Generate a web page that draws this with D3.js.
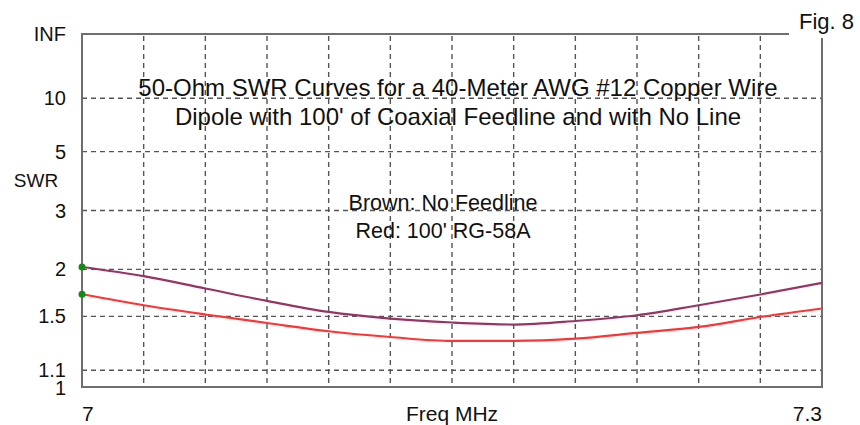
<!DOCTYPE html>
<html><head><meta charset="utf-8">
<script src="https://cdn.jsdelivr.net/npm/d3@7"></script>
<style>body{margin:0;background:#fff}svg{display:block}text{font-family:"Liberation Sans",Arial,sans-serif;fill:#111}</style>
</head><body>
<svg id="c" width="860" height="425"></svg>
<script>
const freqs = [7.000,7.025,7.050,7.075,7.100,7.125,7.150,7.175,7.200,7.225,7.250,7.275,7.300];
const swrNoLine = [2.03,1.915,1.774,1.645,1.54,1.481,1.447,1.43,1.46,1.51,1.603,1.71,1.836];
const swrRG58 = [1.713,1.603,1.517,1.443,1.375,1.33,1.30,1.30,1.317,1.362,1.41,1.495,1.572];
const yTickVals = [Infinity,10,5,3,2,1.5,1.1,1];
const yTickLabels = ["INF","10","5","3","2","1.5","1.1","1"];
const xGridVals = [7.025,7.05,7.075,7.1,7.125,7.15,7.175,7.2,7.225,7.25,7.275];
const titleLines = ["50-Ohm SWR Curves for a 40-Meter AWG #12 Copper Wire","Dipole with 100' of Coaxial Feedline and with No Line"];
const legendLines = ["Brown: No Feedline","Red: 100' RG-58A"];

const svg = d3.select("#c");
const L=82,R=822,T=34,B=387;
const x = d3.scaleLinear().domain([7.0,7.3]).range([L,R]);
const rho = s => s===Infinity ? 1 : (s-1)/(s+1);
const yr = d3.scaleLinear().domain([0,1]).range([B,T]);
const y = s => yr(rho(s));
const grid="#555";

// grid
svg.append("g").selectAll("line").data(xGridVals).join("line")
  .attr("x1",d=>x(d)).attr("x2",d=>x(d)).attr("y1",T+2).attr("y2",B)
  .attr("stroke",grid).attr("stroke-width",1.4).attr("stroke-dasharray","5,4");
svg.append("g").selectAll("line").data(yTickVals.filter(v=>v!==Infinity && v!==1)).join("line")
  .attr("x1",L).attr("x2",R).attr("y1",d=>y(d)).attr("y2",d=>y(d))
  .attr("stroke",grid).attr("stroke-width",1.4).attr("stroke-dasharray","5,4");

// frame
svg.append("rect").attr("x",L).attr("y",T).attr("width",R-L).attr("height",B-T)
  .attr("fill","none").attr("stroke","#6e6e6e").attr("stroke-width",2);
// Fig label mask
svg.append("rect").attr("x",789).attr("y",0).attr("width",71).attr("height",38).attr("fill","#fff");
svg.append("text").attr("x",799).attr("y",29).attr("font-size",22).text("Fig. 8");

// y labels
svg.append("g").selectAll("text").data(yTickVals).join("text")
  .attr("x",66).attr("y",(d,i)=>y(d)+7+(d===1?1:0)).attr("text-anchor","end").attr("font-size",20)
  .text((d,i)=>yTickLabels[i]);
svg.append("text").attr("x",36).attr("y",187).attr("text-anchor","middle").attr("font-size",19).text("SWR");

// x labels
svg.append("text").attr("x",x(7.0)).attr("y",421).attr("font-size",21).text("7");
svg.append("text").attr("x",(L+R)/2).attr("y",421).attr("text-anchor","middle").attr("font-size",21).text("Freq MHz");
svg.append("text").attr("x",x(7.3)).attr("y",421).attr("text-anchor","end").attr("font-size",21).text("7.3");

// title
svg.append("g").selectAll("text").data(titleLines).join("text")
  .attr("x",458).attr("y",(d,i)=>96+i*29).attr("text-anchor","middle").attr("font-size",24).text(d=>d);
svg.append("g").selectAll("text").data(legendLines).join("text")
  .attr("x",443).attr("y",(d,i)=>210+i*28).attr("text-anchor","middle").attr("font-size",21.5).text(d=>d);

// curves
const line = d3.line().x(d=>x(d[0])).y(d=>y(d[1])).curve(d3.curveMonotoneX);
const series = [{v:swrNoLine,c:"#993366"},{v:swrRG58,c:"#ff3333"}];
series.forEach(s=>{
  svg.append("path").datum(freqs.map((f,i)=>[f,s.v[i]])).attr("d",line)
    .attr("fill","none").attr("stroke",s.c).attr("stroke-width",2.2);
});
series.forEach(s=>{
  svg.append("circle").attr("cx",x(freqs[0])).attr("cy",y(s.v[0])).attr("r",3.5).attr("fill","#138a13");
});
</script>
</body></html>
